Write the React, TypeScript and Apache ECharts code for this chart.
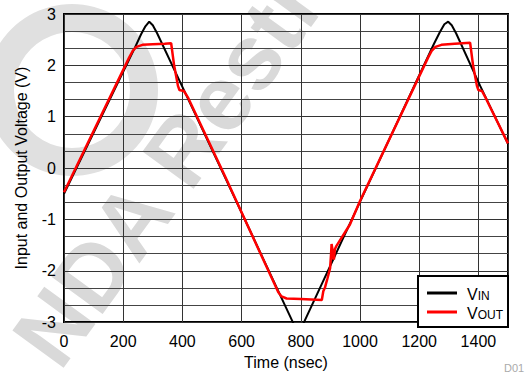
import React, { useEffect, useRef } from "react";
import * as echarts from "echarts";

const xTicks = [0, 200, 400, 600, 800, 1000, 1200, 1400];
const yTicks = [-3, -2, -1, 0, 1, 2, 3];

const vinT = [0, 240, 260, 275, 288, 300, 315, 400, 544, 773, 792, 811, 1000, 1250, 1270, 1285, 1298, 1310, 1325, 1406, 1500];
const vinV = [-0.5, 2.35, 2.6, 2.76, 2.85, 2.78, 2.62, 1.58, -0.18, -3.0, -3.24, -3.0, -0.66, 2.42, 2.65, 2.8, 2.85, 2.78, 2.62, 1.6, 0.47];

const voutT = [0, 220, 232, 245, 265, 300, 340, 362, 372, 385, 390, 405, 420, 544, 724, 735, 752, 800, 871, 876, 882, 890, 899, 902, 904, 906, 909, 912, 915, 920, 966, 1000, 1230, 1242, 1255, 1275, 1320, 1372, 1382, 1395, 1400, 1412, 1425, 1500];
const voutV = [-0.47, 2.15, 2.28, 2.36, 2.4, 2.41, 2.42, 2.43, 2.0, 1.6, 1.52, 1.5, 1.36, -0.16, -2.42, -2.5, -2.54, -2.55, -2.57, -2.4, -2.32, -2.15, -1.95, -1.7, -1.48, -1.55, -1.75, -1.78, -1.58, -1.52, -1.1, -0.64, 2.15, 2.28, 2.36, 2.4, 2.42, 2.44, 2.0, 1.6, 1.52, 1.5, 1.36, 0.48];

const seriesNames = ["VIN", "VOUT"];
const seriesColors = ["#000000", "#ff0000"];

export default function App() {
  const ref = useRef<HTMLDivElement>(null);
  useEffect(() => {
    document.body.style.margin = "0";
    const chart = echarts.init(ref.current!, null, { renderer: "svg" });
    const font = "Liberation Sans";
    chart.setOption({
      animation: false,
      backgroundColor: "#ffffff",
      textStyle: { fontFamily: font },
      graphic: [
        {
          type: "ring",
          shape: { cx: 72, cy: 90, r0: 58, r: 86 },
          style: { fill: "#e0e0e0" },
          z: -10,
          silent: true,
        },
        {
          type: "text",
          x: 34,
          y: 354,
          rotation: (54 * Math.PI) / 180,
          style: {
            text: "NDA Restricted",
            font: "bold 92px Liberation Sans",
            fill: "#d9d9d9",
            textVerticalAlign: "middle",
            textAlign: "left",
          },
          z: -10,
          silent: true,
        },
        {
          type: "text",
          x: 504,
          y: 362,
          style: { text: "D01", font: "11px Liberation Sans", fill: "#aaaaaa" },
          silent: true,
        },
      ],
      grid: {
        left: 64,
        right: 18,
        top: 14,
        bottom: 48,
        show: true,
        borderColor: "#000",
        borderWidth: 2,
        backgroundColor: "transparent",
      },
      legend: {
        orient: "vertical",
        right: 18,
        bottom: 48,
        backgroundColor: "#ffffff",
        borderColor: "#000",
        borderWidth: 2,
        borderRadius: 0,
        padding: [8, 5, 6, 9],
        itemWidth: 30,
        itemHeight: 3,
        itemGap: 1,
        icon: "rect",
        data: seriesNames,
        formatter: (name: string) => (name === "VIN" ? "{a|V}{b|IN}" : "{a|V}{b|OUT}"),
        textStyle: {
          color: "#000",
          rich: {
            a: { fontSize: 16, fontFamily: font, color: "#000", lineHeight: 18, verticalAlign: "bottom", padding: [0, 0, 0, 5] },
            b: { fontSize: 12, fontFamily: font, color: "#000", lineHeight: 18, verticalAlign: "bottom", padding: [6, 0, 0, 0] },
          },
        },
      },
      xAxis: {
        type: "value",
        min: 0,
        max: 1500,
        interval: 200,
        name: "Time (nsec)",
        nameLocation: "middle",
        nameGap: 30,
        nameTextStyle: { fontSize: 16, color: "#000", fontFamily: font },
        axisLine: { show: false },
        axisTick: { show: false },
        axisLabel: {
          color: "#000",
          fontSize: 16,
          margin: 11,
          fontFamily: font,
          formatter: (v: number) => (xTicks.includes(v) ? String(v) : ""),
        },
        splitLine: { show: true, lineStyle: { color: "#333", width: 1 } },
      },
      yAxis: {
        type: "value",
        min: -3,
        max: 3,
        interval: 1,
        name: "Input and Output Voltage (V)",
        nameLocation: "middle",
        nameGap: 35,
        nameTextStyle: { fontSize: 16, color: "#000", fontFamily: font },
        axisLine: { show: false },
        axisTick: { show: false },
        axisLabel: {
          color: "#000",
          fontSize: 16,
          margin: 8,
          fontFamily: font,
          formatter: (v: number) => (yTicks.includes(v) ? String(v) : ""),
        },
        splitLine: { show: true, lineStyle: { color: "#333", width: 1 } },
        minorTick: { show: false, splitNumber: 3 },
        minorSplitLine: { show: true, lineStyle: { color: "#444", width: 1 } },
      },
      series: [
        {
          name: seriesNames[0],
          type: "line",
          data: vinT.map((t, i) => [t, vinV[i]]),
          symbol: "none",
          clip: true,
          lineStyle: { color: seriesColors[0], width: 2 },
          itemStyle: { color: seriesColors[0] },
          z: 3,
        },
        {
          name: seriesNames[1],
          type: "line",
          data: voutT.map((t, i) => [t, voutV[i]]),
          symbol: "none",
          clip: true,
          lineStyle: { color: seriesColors[1], width: 2.5 },
          itemStyle: { color: seriesColors[1] },
          z: 4,
        },
      ],
    });
    return () => chart.dispose();
  }, []);
  return <div ref={ref} style={{ position: "absolute", left: 0, top: 0, width: 526, height: 375 }} />;
}
